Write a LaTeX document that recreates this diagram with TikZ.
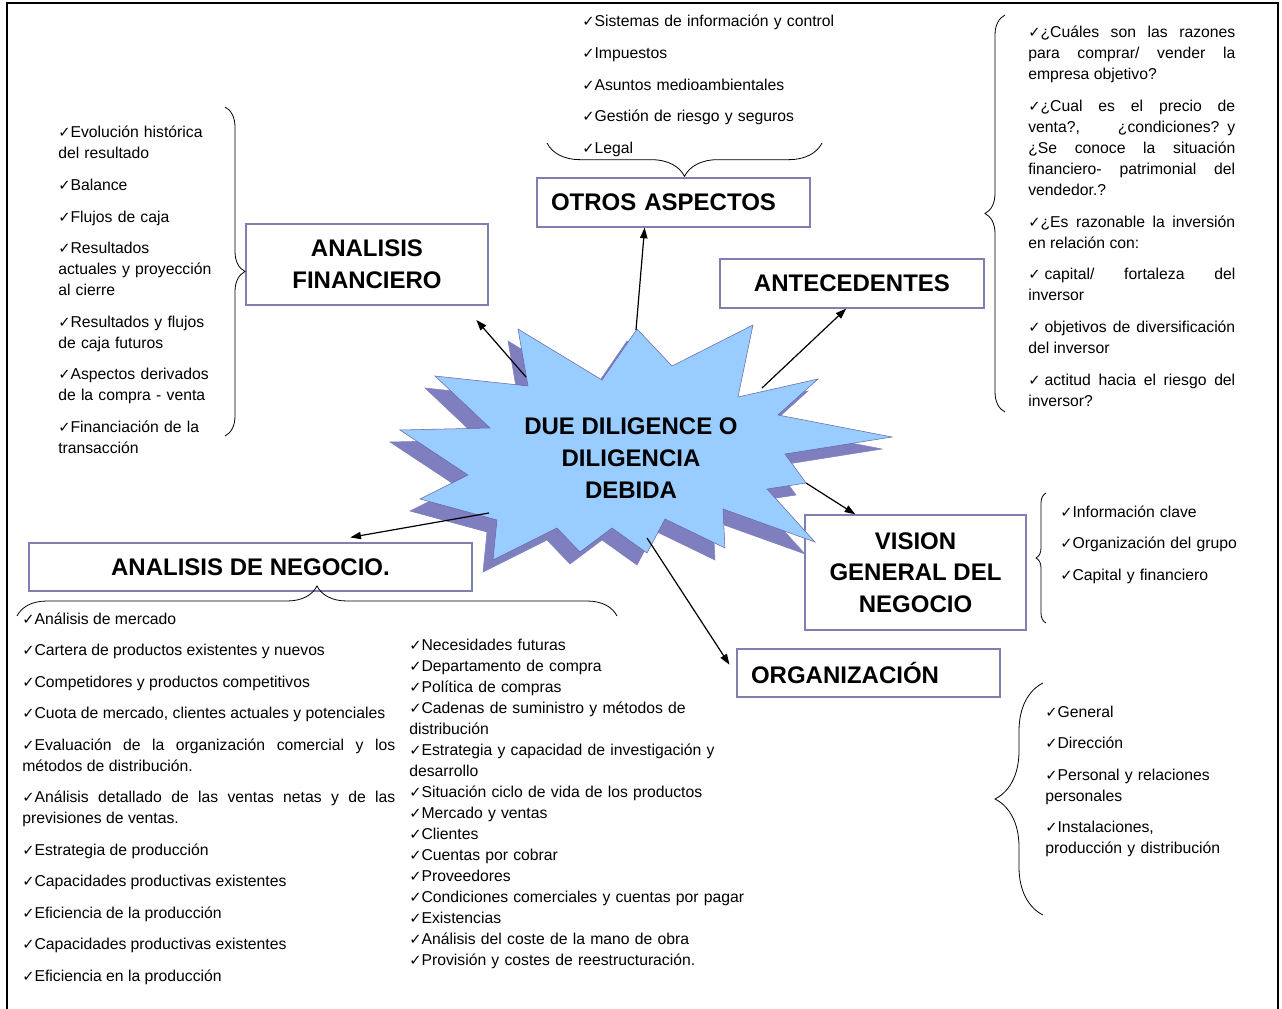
\documentclass[tikz,border=0pt]{standalone}
\usepackage{fontspec}
\setmainfont{Liberation Sans}
\newfontfamily\ckfont{DejaVu Sans}
\usetikzlibrary{arrows.meta,decorations.pathreplacing}
\definecolor{starblue}{RGB}{153,204,255}
\definecolor{starshade}{RGB}{127,127,191}
\definecolor{starline}{RGB}{102,102,170}
\definecolor{boxline}{RGB}{128,128,176}
\newcommand{\ck}{{\ckfont\fontsize{11}{11}\selectfont ✓}}
\setlength{\parindent}{0pt}

\begin{document}
\begin{tikzpicture}
[x=0.75pt,y=-0.75pt,
box/.style={draw=boxline,line width=0.9pt,fill=white,inner sep=0pt,
  font=\fontsize{18}{23.75}\selectfont\bfseries,align=center},
lst/.style={anchor=base west,inner sep=0pt,align=left,
  font=\fontsize{11.8}{15.75}\selectfont},
jst/.style={lst,align=justify},
arr/.style={-{Triangle[length=8pt,width=5.5pt]},line width=0.9pt},
brc/.style={decorate,decoration={brace,amplitude=#1},line width=0.6pt}]
\useasboundingbox (0,0) rectangle (1282,1009);
\draw[line width=1.5pt] (7,1009) -- (7,3) -- (1278,3) -- (1278,1009);

% boxes
\node (fin) at (367,264.5)[box,minimum width=181.5pt,minimum height=60.75pt] {ANALISIS\\FINANCIERO};
\node (otros) at (673.5,202.5)[box,minimum height=36.75pt,text width=183.75pt,inner xsep=10.5pt,align=left] {OTROS ASPECTOS};
\node (ante) at (852,283.5)[box,minimum width=198pt,minimum height=36.75pt] {ANTECEDENTES};
\node (vision) at (915.5,572.5)[box,minimum width=165.75pt,minimum height=86.25pt] {VISION\\GENERAL DEL\\NEGOCIO};
\node (org) at (868.5,673)[box,minimum height=36pt,text width=176.25pt,inner xsep=10.5pt,align=left] {ORGANIZACIÓN};
\node (neg) at (250.5,567)[box,minimum width=332.25pt,minimum height=36pt] {ANALISIS DE NEGOCIO.};

% star with shadow
\foreach \dx/\dy/\col/\edge in {-10/12/starshade/starshade,0/0/starblue/starline}
  \filldraw[fill=\col,draw=\edge,line width=0.4pt,shift={(\dx,\dy)}]
    (637,329) -- (672,366) -- (753,325) -- (738,397) -- (818,379) -- (778,415)
    -- (892,437) -- (785,454) -- (806,483) -- (767,489) -- (815,542) -- (723,509)
    -- (725,548) -- (665,519) -- (647,553) -- (612,528) -- (580,552) -- (557,528)
    -- (493,560) -- (497,520) -- (420,499) -- (468,475) -- (400,430) -- (490,428)
    -- (435,376) -- (528,386) -- (518,329) -- (602,380) -- cycle;
\node (due) at (631,458)[font=\fontsize{18}{24}\selectfont\bfseries,align=center] {DUE DILIGENCE O\\DILIGENCIA\\DEBIDA};

\coordinate (s-fin) at (526,377);
\coordinate (s-otros) at (636,330);
\coordinate (s-ante) at (762,388);
\coordinate (s-vis) at (806,483);
\coordinate (s-org) at (647,538);
\coordinate (s-neg) at (489,513);

\draw[arr,shorten >=14.25pt] (s-fin) -- (fin.-23.5);
\draw[arr] (s-otros) -- (otros.-139.3);
\draw[arr] (s-ante) -- (ante.-103.8);
\draw[arr] (s-vis) -- (vision.136.5);
\draw[arr,shorten >=9.5pt] (s-org) -- (org.-179.3);
\draw[arr,shorten >=21.6pt] (s-neg) -- (neg.19.4);

% braces
\draw[brc=15pt] (225,107) -- (225,436);
\draw[brc=25pt] (822,143) -- (547,143);
\draw[brc=15pt] (1005,412) -- (1005,15);
\draw[brc=7.5pt] (1046,623) -- (1046,493);
\draw[brc=36pt] (1043,915) -- (1043,683);
\draw[brc=22.5pt] (17,616) -- (617,616);

% lists
\node (otros-list) at (582,27)[lst,text width=195pt] {\ck Sistemas de información y control\\[7.9pt]
\ck Impuestos\\[7.9pt]
\ck Asuntos medioambientales\\[7.9pt]
\ck Gestión de riesgo y seguros\\[7.9pt]
\ck Legal};

\node (fin-list) at (58,138)[lst,text width=127.5pt] {\ck Evolución histórica\\del resultado\\[7.9pt]
\ck Balance\\[7.9pt]
\ck Flujos de caja\\[7.9pt]
\ck Resultados\\actuales y proyección\\al cierre\\[7.9pt]
\ck Resultados y flujos\\de caja futuros\\[7.9pt]
\ck Aspectos derivados\\de la compra - venta\\[7.9pt]
\ck Financiación de la\\transacción};

\node (ante-list) at (1028,38)[jst,text width=155.25pt] {\ck ¿Cuáles son las razones\linebreak para comprar/ vender la\linebreak empresa objetivo?\\[8pt]
\ck ¿Cual es el precio de\linebreak venta?,\hfill ¿condiciones?\hspace{6pt}y\linebreak ¿Se conoce la situación\linebreak financiero- patrimonial del\linebreak vendedor.?\\[8pt]
\ck ¿Es razonable la inversión\linebreak en relación con:\\[8pt]
\ck\hspace{3pt}capital/ fortaleza del\linebreak inversor\\[8pt]
\ck\hspace{3pt}objetivos de diversificación\linebreak del inversor\\[8pt]
\ck\hspace{3pt}actitud hacia el riesgo del\linebreak inversor?};

\node (vision-list) at (1060,517)[lst,text width=150pt] {\ck Información clave\\[7.9pt]
\ck Organización del grupo\\[7.9pt]
\ck Capital y financiero};

\node (org-list) at (1045,717)[lst,text width=150pt] {\ck General\\[7.9pt]
\ck Dirección\\[7.9pt]
\ck Personal y relaciones\\personales\\[7.9pt]
\ck Instalaciones,\\producción y distribución};

\node (neg-list) at (22,624)[jst,text width=279.75pt] {\ck Análisis de mercado\\[7.9pt]
\ck Cartera de productos existentes y nuevos\\[7.9pt]
\ck Competidores y productos competitivos\\[7.9pt]
\ck Cuota de mercado, clientes actuales y potenciales\\[7.9pt]
\ck Evaluación de la organización comercial y los\linebreak métodos de distribución.\\[7.9pt]
\ck Análisis detallado de las ventas netas y de las\linebreak previsiones de ventas.\\[7.9pt]
\ck Estrategia de producción\\[7.9pt]
\ck Capacidades productivas existentes\\[7.9pt]
\ck Eficiencia de la producción\\[7.9pt]
\ck Capacidades productivas existentes\\[7.9pt]
\ck Eficiencia en la producción};

\node (mid-list) at (409,650)[lst,text width=260pt] {\ck Necesidades futuras\\
\ck Departamento de compra\\
\ck Política de compras\\
\ck Cadenas de suministro y métodos de\\distribución\\
\ck Estrategia y capacidad de investigación y\\desarrollo\\
\ck Situación ciclo de vida de los productos\\
\ck Mercado y ventas\\
\ck Clientes\\
\ck Cuentas por cobrar\\
\ck Proveedores\\
\ck Condiciones comerciales y cuentas por pagar\\
\ck Existencias\\
\ck Análisis del coste de la mano de obra\\
\ck Provisión y costes de reestructuración.};
\end{tikzpicture}
\end{document}
